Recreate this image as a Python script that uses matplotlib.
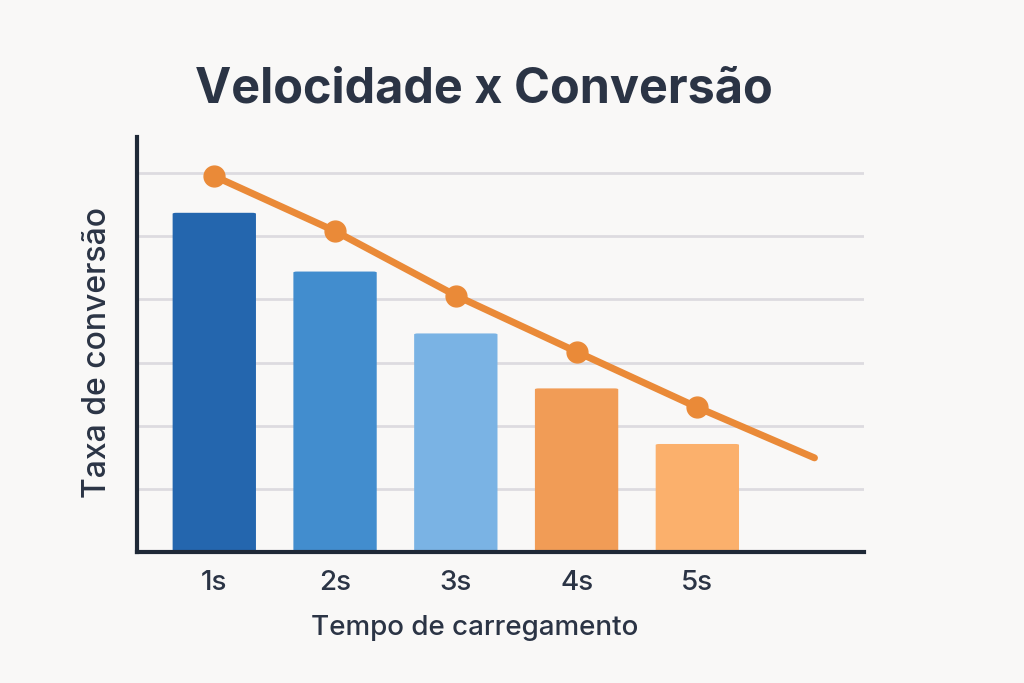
import matplotlib.pyplot as plt
from matplotlib.patches import FancyBboxPatch

# dados
tempos = ['1s', '2s', '3s', '4s', '5s']
x_barras = [1, 2, 3, 4, 5]
conversao_barras = [5.37, 4.44, 3.46, 2.59, 1.71]
cores_barras = ['#2466ae', '#428dce', '#7ab3e4', '#f19c56', '#fbb06c']

x_linha = [1, 2, 3, 4, 5, 5.97]
conversao_linha = [5.95, 5.08, 4.06, 3.17, 2.29, 1.49]

fundo = '#f9f8f7'
texto = '#2b3445'
laranja = '#ea8a38'

plt.rcParams['font.family'] = ['Inter', 'DejaVu Sans']

fig = plt.figure(figsize=(10.24, 6.83), dpi=100, facecolor=fundo)
ax = fig.add_axes([137 / 1024, 131 / 683, (864 - 137) / 1024, (552 - 137) / 683])
ax.set_facecolor(fundo)

ax.set_xlim(0.36, 6.38)
ax.set_ylim(0, 6.57)

for y in range(1, 7):
    ax.axhline(y, color='#dddbe0', lw=2, zorder=0)

for xi, h, c in zip(x_barras, conversao_barras, cores_barras):
    ax.add_patch(FancyBboxPatch((xi - 0.345, 0), 0.69, h,
                                boxstyle='round,pad=0,rounding_size=0.03',
                                mutation_aspect=0.5,
                                facecolor=c, edgecolor='none', zorder=2))

ax.plot(x_linha, conversao_linha, color=laranja, lw=5, solid_capstyle='round', zorder=3)
ax.plot(x_linha[:5], conversao_linha[:5], 'o', color=laranja, ms=15, zorder=4)

ax.set_xticks(x_barras)
ax.set_xticklabels(tempos, fontsize=20, color=texto, fontweight='medium')
ax.set_yticks([])
ax.tick_params(axis='x', length=0, pad=13)

for lado in ['top', 'right']:
    ax.spines[lado].set_visible(False)
for lado in ['left', 'bottom']:
    ax.spines[lado].set_color('#1f2937')
    ax.spines[lado].set_linewidth(3)

ax.set_xlabel('Tempo de carregamento', fontsize=20, color=texto, fontweight='medium')
ax.xaxis.set_label_coords(0.465, -0.152)
ax.set_ylabel('Taxa de conversão', fontsize=23, color=texto, fontweight='medium')
ax.yaxis.set_label_coords(-0.033, 0.48)

fig.text(0.473, 0.869, 'Velocidade x Conversão', fontsize=35, fontweight='bold',
         color=texto, ha='center', va='center')

fig.savefig('out.png', dpi=100, facecolor=fundo)
